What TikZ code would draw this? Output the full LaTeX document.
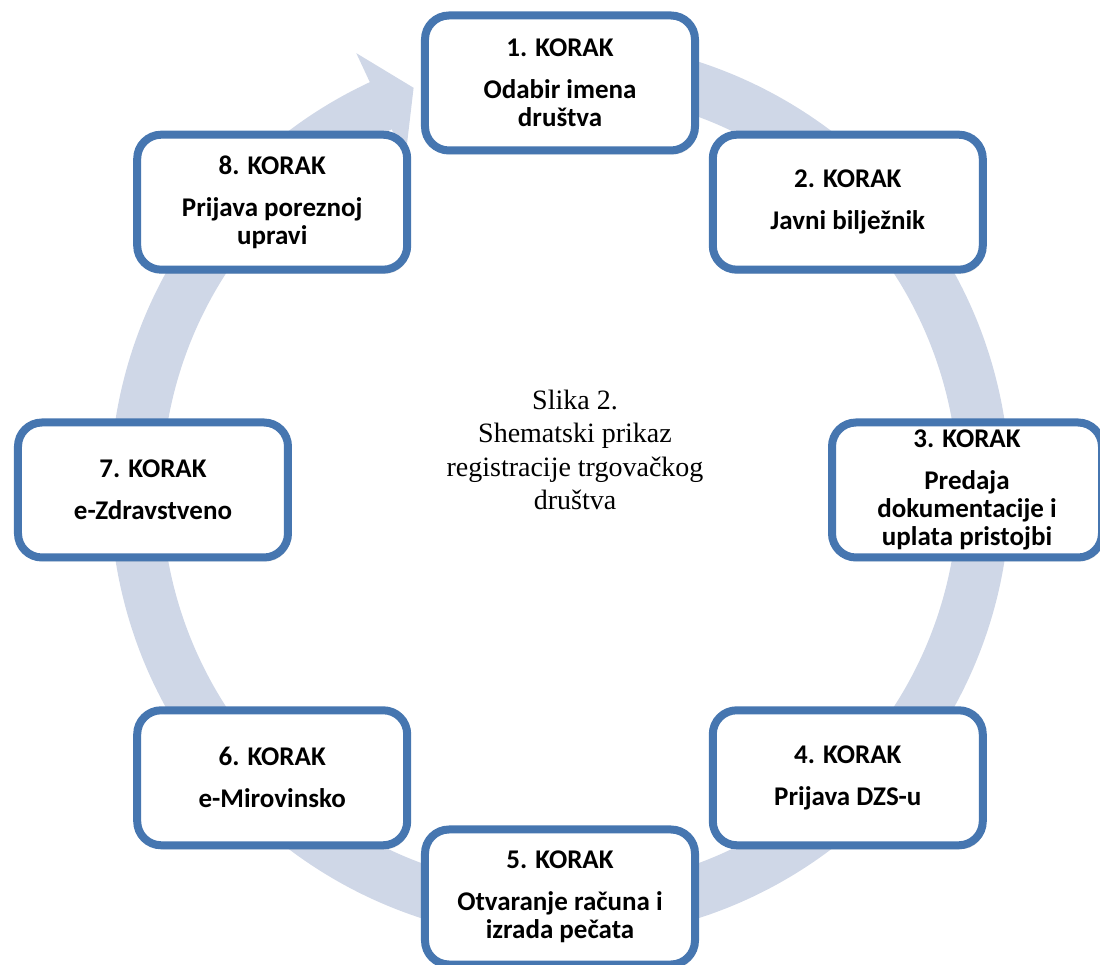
\documentclass[tikz,border=0pt]{standalone}
\usepackage{fontspec}
\setmainfont{Carlito}
\newfontfamily\slikafont{Liberation Serif}
\usetikzlibrary{shadows}
\definecolor{korakplava}{RGB}{70,118,176}
\definecolor{traka}{RGB}{207,215,231}
\tikzset{
  korak/.style={draw=korakplava, line width=8pt, fill=white, rounded corners=24pt,
    minimum width=270pt, minimum height=135pt, align=center,
    font=\bfseries\fontsize{27}{28}\selectfont,
    drop shadow={opacity=0.25, shadow xshift=2pt, shadow yshift=-4pt}},
  naslov/.style={align=center, font=\slikafont\fontsize{28}{33.5}\selectfont}
}

\begin{document}
\begin{tikzpicture}[x=1pt, y=1pt]
			%%%%% START %%%%%
			\useasboundingbox (-560, -475) rectangle (540, 490);
			
			% kruzna strelica
			\fill[traka] (100:450) arc[start angle=100, end angle=-245, radius=450]
				-- (-245:482) -- (-250:428) -- (-245:366) -- (-245:398)
				arc[start angle=-245, end angle=100, radius=398] -- cycle;
			
			\node[naslov] (slika) at (15, 40) {Slika 2.\\Shematski prikaz\\registracije trgovačkog\\društva};
			
			\node[korak] (k1) at (90:407) {1. KORAK\\[14pt]Odabir imena\\društva};
			\node[korak] (k2) at (45:407) {2. KORAK\\[14pt]Javni bilježnik};
			\node[korak] (k3) at (0:407) {3. KORAK\\[14pt]Predaja\\dokumentacije i\\uplata pristojbi};
			\node[korak] (k4) at (-45:407) {4. KORAK\\[14pt]Prijava DZS-u};
			\node[korak] (k5) at (-90:407) {5. KORAK\\[14pt]Otvaranje računa i\\izrada pečata};
			\node[korak] (k6) at (-135:407) {6. KORAK\\[14pt]e-Mirovinsko};
			\node[korak] (k7) at (180:407) {7. KORAK\\[14pt]e-Zdravstveno};
			\node[korak] (k8) at (135:407) {8. KORAK\\[14pt]Prijava poreznoj\\upravi};
			
			%%%%% END %%%%%
\end{tikzpicture}
\end{document}
